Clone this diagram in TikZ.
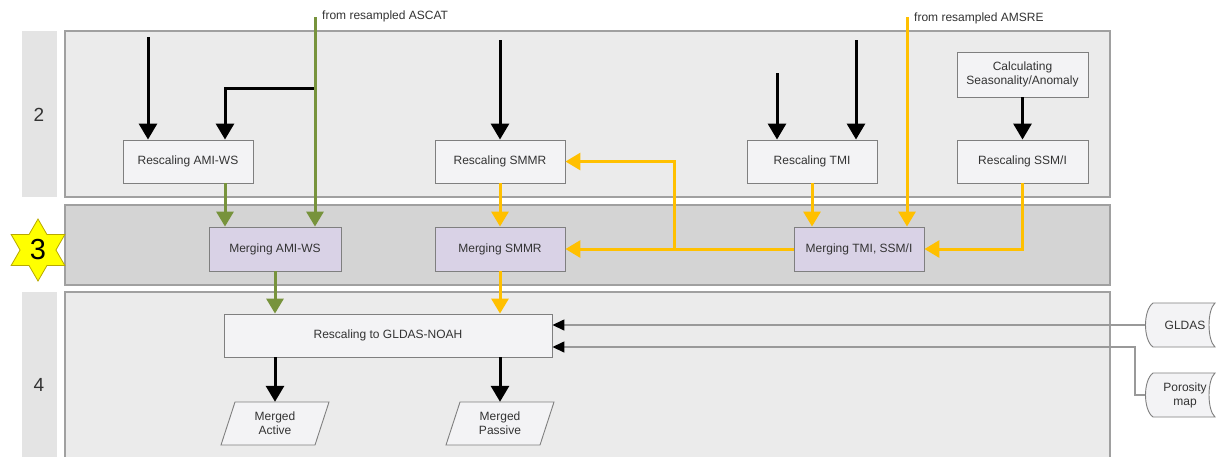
\documentclass[tikz,border=0pt]{standalone}
\usepackage{fontspec}
\setmainfont{Liberation Sans}
\usetikzlibrary{arrows.meta,shapes.geometric,calc}
\definecolor{bandfill}{HTML}{EBEBEB}
\definecolor{bandthree}{HTML}{D4D4D4}
\definecolor{labcolfill}{HTML}{E4E4E4}
\definecolor{bandline}{HTML}{A0A0A0}
\definecolor{boxfill}{HTML}{F3F3F5}
\definecolor{boxline}{HTML}{7F7F7F}
\definecolor{mergefill}{HTML}{D9D2E6}
\definecolor{txt}{HTML}{333333}
\definecolor{ylw}{HTML}{FFC000}
\definecolor{grn}{HTML}{77933C}
\definecolor{gryline}{HTML}{999999}
\definecolor{starfill}{HTML}{FFFF00}
\definecolor{starline}{HTML}{B8A800}
\tikzset{
  band/.style={draw=bandline, line width=1.2pt, fill=bandfill},
  bandm/.style={draw=bandline, line width=1.2pt, fill=bandthree},
  labcol/.style={fill=labcolfill},
  box/.style={draw=boxline, line width=0.9pt, fill=boxfill, minimum width=130pt, minimum height=43pt, inner sep=2pt, align=center, text=txt},
  mbox/.style={box, fill=mergefill},
  plain/.style={minimum width=94pt, minimum height=43pt, inner sep=0pt, align=center, text=txt, font=\fontsize{12}{14}\selectfont},
  shapeline/.style={draw=boxline, line width=0.9pt, fill=boxfill},
  blk/.style={line width=3pt, draw=black, -{Triangle[width=18pt,length=16pt]}},
  grnarrow/.style={line width=3pt, draw=grn, -{Triangle[width=17pt,length=15pt]}},
  ylwarrow/.style={line width=3pt, draw=ylw, -{Triangle[width=17pt,length=15pt]}},
  ylwline/.style={line width=3pt, draw=ylw},
  gryarrow/.style={line width=1.5pt, draw=gryline, -{Triangle[width=11pt,length=12pt,fill=black,color=black]}},
  lbl/.style={text=txt, inner sep=0pt, anchor=west},
}
\begin{document}
\begin{tikzpicture}[x=1pt,y=-1pt, font=\fontsize{12}{14}\selectfont]
\useasboundingbox (0,0) rectangle (1217,456);
\clip (0,0) rectangle (1217,456);
\fill[white] (0,0) rectangle (1217,456);

% bands
\fill[labcol] (22,31) rectangle (57,197);
\draw[band] (65,31) rectangle (1110,197);
\draw[bandm] (65,205) rectangle (1110,285);
\fill[labcol] (22,292) rectangle (57,470);
\draw[band] (65,292) rectangle (1110,470);

\node[text=txt, font=\fontsize{19}{22}\selectfont] (l2) at (39,115) {2};
\node[text=txt, font=\fontsize{19}{22}\selectfont] (l4) at (39,385) {4};
\node[star, star points=6, star point ratio=1.73, minimum size=62pt, inner sep=0pt,
      fill=starfill, draw=starline, line width=0.8pt, font=\fontsize{29}{32}\selectfont] (s3) at (38,250) {3};

% nodes
\node[box] (rAMI) at (188,161.5) {Rescaling AMI-WS};
\node[box] (rSMMR) at (500,161.5) {Rescaling SMMR};
\node[box] (rTMI) at (812,161.5) {Rescaling TMI};
\node[box, minimum width=131pt] (rSSMI) at (1022.5,161.5) {Rescaling SSM/I};
\node[box, minimum width=131pt, minimum height=45pt] (calc) at (1022.5,74.5) {Calculating\\Seasonality/Anomaly};
\node[mbox, minimum width=132pt, minimum height=44pt] (mAMI) at (275,249) {Merging AMI-WS};
\node[mbox, minimum height=44pt] (mSMMR) at (500,249) {Merging SMMR};
\node[mbox, minimum height=44pt] (mTMI) at (859,249) {Merging TMI, SSM/I};
\node[box, minimum width=328pt] (gR) at (388,335.5) {Rescaling to GLDAS-NOAH};

% parallelograms
\node[plain] (ma) at (275,423.5) {};
\draw[shapeline] ($(ma)+(-40,-21.5)$) -- ($(ma)+(54,-21.5)$) -- ($(ma)+(40,21.5)$) -- ($(ma)+(-54,21.5)$) -- cycle;
\node[plain] at (ma) {Merged\\Active};
\node[plain] (mp) at (500,423.5) {};
\draw[shapeline] ($(mp)+(-40,-21.5)$) -- ($(mp)+(54,-21.5)$) -- ($(mp)+(40,21.5)$) -- ($(mp)+(-54,21.5)$) -- cycle;
\node[plain] at (mp) {Merged\\Passive};

% stored data shapes
\node[plain, minimum width=74pt, minimum height=44pt] (gl) at (1182,325) {};
\draw[shapeline] ($(gl)+(-29,-22)$) -- ($(gl)+(33,-22)$) .. controls ($(gl)+(25,-15)$) and ($(gl)+(25,15)$) .. ($(gl)+(33,22)$)
  -- ($(gl)+(-29,22)$) .. controls ($(gl)+(-39,15)$) and ($(gl)+(-39,-15)$) .. cycle;
\node[plain] at ($(gl)+(3,0)$) {GLDAS};
\node[plain, minimum width=74pt, minimum height=44pt] (por) at (1182,395) {};
\draw[shapeline] ($(por)+(-29,-22)$) -- ($(por)+(33,-22)$) .. controls ($(por)+(25,-15)$) and ($(por)+(25,15)$) .. ($(por)+(33,22)$)
  -- ($(por)+(-29,22)$) .. controls ($(por)+(-39,15)$) and ($(por)+(-39,-15)$) .. cycle;
\node[plain] at ($(por)+(3,0)$) {Porosity\\map};

% labels
\coordinate (asc) at (315,17);
\coordinate (ams) at (907,17);
\node[lbl] (lasc) at (322,16) {from resampled ASCAT};
\node[lbl] (lams) at (914,18) {from resampled AMSRE};

% connectors row 2
\coordinate (t1) at (148,37);
\draw[blk] (t1) -- (t1 |- rAMI.north);
\coordinate (j1) at (315,88);
\coordinate (k1) at (225,88);
\draw[blk] (j1) -- (k1) -- (k1 |- rAMI.north);
\draw[grnarrow] (asc) -- (asc |- mAMI.north);
\draw[grnarrow] (k1 |- rAMI.south) -- (k1 |- mAMI.north);
\draw[grnarrow] (mAMI.south) -- (mAMI.south |- gR.north);

\coordinate (t2) at (500,40);
\draw[blk] (t2) -- (rSMMR.north);
\draw[ylwarrow] (rSMMR.south) -- (mSMMR.north);
\draw[ylwarrow] (mSMMR.south) -- (mSMMR.south |- gR.north);

\coordinate (t3) at (777,73);
\coordinate (t4) at (856,40);
\draw[blk] (t3) -- (t3 |- rTMI.north);
\draw[blk] (t4) -- (t4 |- rTMI.north);
\draw[ylwarrow] (rTMI.south) -- (rTMI.south |- mTMI.north);
\draw[ylwarrow] (ams) -- (ams |- mTMI.north);

\draw[ylwarrow] (mTMI.west) -- (mSMMR.east);
\coordinate (br) at (674,249);
\draw[ylwarrow] (br) |- (rSMMR.east);

\draw[blk] (calc.south) -- (rSSMI.north);
\draw[ylwarrow] (rSSMI.south) |- (mTMI.east);

% gray inputs
\draw[gryarrow] (gl.west) -- (gl.west -| gR.east);
\coordinate (pj) at (1135,347);
\draw[gryarrow] (por.west) -| (pj) -- (pj -| gR.east);

% outputs
\draw[blk] (ma |- gR.south) -- (ma.north);
\draw[blk] (mp |- gR.south) -- (mp.north);
\end{tikzpicture}
\end{document}
